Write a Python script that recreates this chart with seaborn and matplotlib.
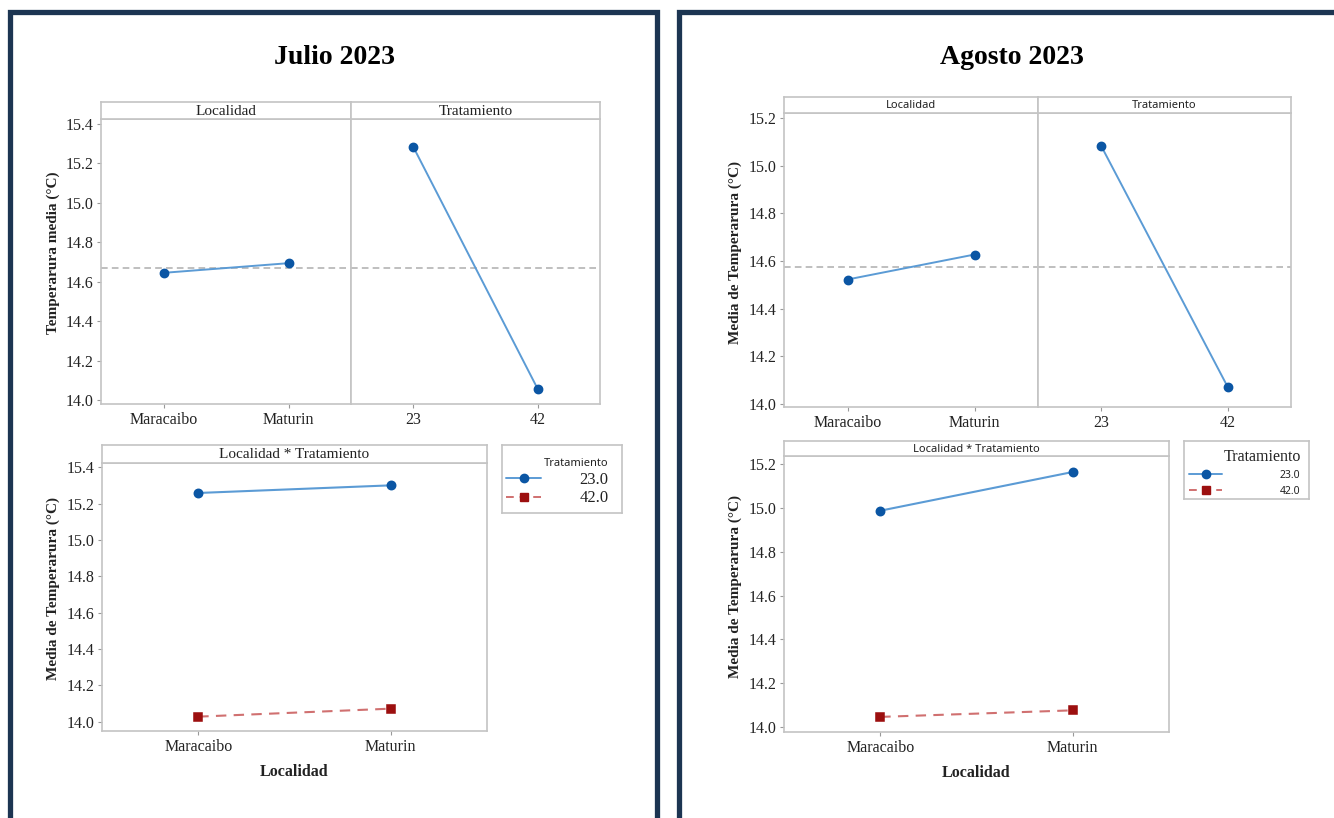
import numpy as np
import pandas as pd
import matplotlib
matplotlib.use("Agg")
import matplotlib.pyplot as plt
import seaborn as sns
from matplotlib.lines import Line2D
from matplotlib.patches import Rectangle
from matplotlib.ticker import MultipleLocator

# ---------------- data ----------------
localidades = ["Maracaibo", "Maturin"]
tratamientos = ["23", "42"]
trat_labels = ["23.0", "42.0"]

julio_loc = [14.645, 14.694]
julio_trat = [15.284, 14.056]
julio_mean = 14.670
julio_int_23 = [15.259, 15.301]
julio_int_42 = [14.028, 14.072]

agosto_loc = [14.522, 14.627]
agosto_trat = [15.083, 14.070]
agosto_mean = 14.573
agosto_int_23 = [14.988, 15.165]
agosto_int_42 = [14.046, 14.076]

# ---------------- style ----------------
sns.set_style("white")
plt.rcParams["font.family"] = ["Liberation Serif", "DejaVu Serif"]
SERIF = "Liberation Serif"
SANS = "Noto Sans"
NAVY = "#1c3552"
SPINE = "#c4c4c4"
BLUE_L, BLUE_M = "#5b9bd5", "#0b56a4"
RED_L, RED_M = "#d07070", "#9c0f0f"
MEANC = "#b4b4b4"
TXT = "#222222"

W, H = 1334, 818
fig = plt.figure(figsize=(W / 100, H / 100), dpi=100)


def px(x0, y0, x1, y1):
    return [x0 / W, 1 - y1 / H, (x1 - x0) / W, (y1 - y0) / H]


def fx(x):
    return x / W


def fy(y):
    return 1 - y / H


# frames
fig.add_artist(Rectangle((fx(9.5), -0.1), fx(657) - fx(9.5), fy(12.5) + 0.1,
                         transform=fig.transFigure, fill=False, edgecolor=NAVY, linewidth=3.8))
fig.add_artist(Rectangle((fx(678.5), -0.1), 0.6, fy(12.5) + 0.1,
                         transform=fig.transFigure, fill=False, edgecolor=NAVY, linewidth=3.8))

fig.text(fx(335), fy(58), "Julio 2023", ha="center", va="center", family=SERIF,
         fontweight="bold", size=20, color="black")
fig.text(fx(1012), fy(58), "Agosto 2023", ha="center", va="center", family=SERIF,
         fontweight="bold", size=20, color="black")


def strip(rect, label, family, size):
    ax = fig.add_axes(px(*rect))
    ax.set_xticks([])
    ax.set_yticks([])
    ax.set_facecolor("white")
    for s in ax.spines.values():
        s.set_color(SPINE)
        s.set_linewidth(1.2)
    ax.text(0.5, 0.45, label, ha="center", va="center", family=family, size=size,
            color=TXT, transform=ax.transAxes)
    return ax


def style(ax, ylim):
    for s in ax.spines.values():
        s.set_color(SPINE)
        s.set_linewidth(1.2)
        s.set_visible(True)
    ax.tick_params(axis="both", length=3, width=0.8, color="#999999", labelsize=11.5,
                   pad=2.5, labelcolor=TXT, bottom=True, left=True)
    ax.set_ylim(*ylim)
    ax.yaxis.set_major_locator(MultipleLocator(0.2))
    ax.set_xlim(-0.5, 1.5)
    ax.set_xlabel("")
    ax.set_ylabel("")
    for lab in ax.get_xticklabels() + ax.get_yticklabels():
        lab.set_family(SERIF)


def recolor(ax, colors):
    for ln, (lc, mc) in zip(ax.lines, colors):
        ln.set_color(lc)
        ln.set_markerfacecolor(mc)
        ln.set_markeredgecolor(mc)


def main_effects(rL, rR, sL, sR, loc_vals, trat_vals, gmean, ylim, strip_fam, strip_size,
                 ylabel, ylab_x, ylab_y):
    axL = fig.add_axes(px(*rL))
    axR = fig.add_axes(px(*rR), sharey=axL)
    sns.pointplot(x=localidades, y=loc_vals, ax=axL, color=BLUE_L, markers="o",
                  linestyles="-", errorbar=None, markersize=6, linewidth=1.4)
    sns.pointplot(x=tratamientos, y=trat_vals, ax=axR, color=BLUE_L, markers="o",
                  linestyles="-", errorbar=None, markersize=6, linewidth=1.4)
    for ax in (axL, axR):
        recolor(ax, [(BLUE_L, BLUE_M)])
        ax.axhline(gmean, color=MEANC, linestyle=(0, (4, 2.5)), linewidth=1.2, zorder=0)
        style(ax, ylim)
    axR.tick_params(axis="y", left=False, labelleft=False)
    axL.set_ylabel(ylabel, family=SERIF, fontweight="bold", size=11, color=TXT)
    axL.yaxis.set_label_coords(fx(ylab_x), fy(ylab_y), transform=fig.transFigure)
    strip(sL, "Localidad", strip_fam, strip_size)
    strip(sR, "Tratamiento", strip_fam, strip_size)


def interaction(r, s, v23, v42, ylim, strip_fam, strip_size, ylabel, ylab_x, ylab_y,
                xlab_y):
    df = pd.DataFrame({
        "Localidad": localidades * 2,
        "Tratamiento": [trat_labels[0]] * 2 + [trat_labels[1]] * 2,
        "Media": list(v23) + list(v42),
    })
    ax = fig.add_axes(px(*r))
    sns.pointplot(data=df, x="Localidad", y="Media", hue="Tratamiento",
                  palette=[BLUE_L, RED_L], markers=["o", "s"], linestyles=["-", (0, (5, 3.5))],
                  errorbar=None, legend=False, ax=ax, markersize=6, linewidth=1.5)
    recolor(ax, [(BLUE_L, BLUE_M), (RED_L, RED_M)])
    style(ax, ylim)
    ax.set_ylabel(ylabel, family=SERIF, fontweight="bold", size=11, color=TXT)
    ax.yaxis.set_label_coords(fx(ylab_x), fy(ylab_y), transform=fig.transFigure)
    ax.set_xlabel("Localidad", family=SERIF, fontweight="bold", size=11.5, color=TXT)
    ax.xaxis.set_label_coords(fx((r[0] + r[2]) / 2), fy(xlab_y), transform=fig.transFigure)
    strip(s, "Localidad * Tratamiento", strip_fam, strip_size)
    return ax


def legend_box(rect, title_fam, title_size, lab_fam, lab_size, hlen, tpad, lspace, bpad):
    ax = fig.add_axes(px(*rect))
    ax.set_xticks([])
    ax.set_yticks([])
    for s in ax.spines.values():
        s.set_color(SPINE)
        s.set_linewidth(1.2)
    handles = [
        Line2D([], [], color=BLUE_L, marker="o", markerfacecolor=BLUE_M,
               markeredgecolor=BLUE_M, markersize=6, linewidth=1.4, linestyle="-"),
        Line2D([], [], color=RED_L, marker="s", markerfacecolor=RED_M,
               markeredgecolor=RED_M, markersize=6, linewidth=1.4, linestyle=(0, (4, 3))),
    ]
    leg = ax.legend(handles, trat_labels, title="Tratamiento", loc="upper right",
                    frameon=False, alignment="right",
                    prop={"family": lab_fam, "size": lab_size},
                    title_fontproperties={"family": title_fam, "size": title_size},
                    handlelength=hlen, handletextpad=tpad, labelspacing=lspace,
                    borderaxespad=0.3, borderpad=bpad)
    for t in leg.get_texts():
        t.set_color(TXT)
    leg.get_title().set_color(TXT)


# ---------------- Julio ----------------
main_effects((101, 119, 351, 404), (351, 119, 600, 404), (101, 102, 351, 119),
             (351, 102, 600, 119), julio_loc, julio_trat, julio_mean, (13.98, 15.425),
             SERIF, 11, "Temperarura media (°C)", 60, 253)
interaction((102, 463, 487, 731), (102, 445, 487, 463), julio_int_23, julio_int_42,
            (13.949, 15.424), SERIF, 11, "Media de Temperarura (°C)", 60, 588, 764)
legend_box((502, 445, 622, 513), SANS, 8, SERIF, 12, 2.1, 2.3, 0.15, 0.5)

# ---------------- Agosto ----------------
main_effects((784, 113, 1038, 407), (1038, 113, 1291, 407), (784, 97, 1038, 113),
             (1038, 97, 1291, 113), agosto_loc, agosto_trat, agosto_mean, (13.986, 15.222),
             SANS, 8, "Media de Temperarura (°C)", 742, 252)
interaction((784, 456, 1169, 732), (784, 441, 1169, 456), agosto_int_23, agosto_int_42,
            (13.977, 15.238), SANS, 8, "Media de Temperarura (°C)", 742, 587, 765)
legend_box((1184, 441, 1309, 499), SERIF, 11.5, SANS, 7.5, 3.1, 5.6, 0.45, 0.5)

fig.savefig("out.png", dpi=100, facecolor="white")
